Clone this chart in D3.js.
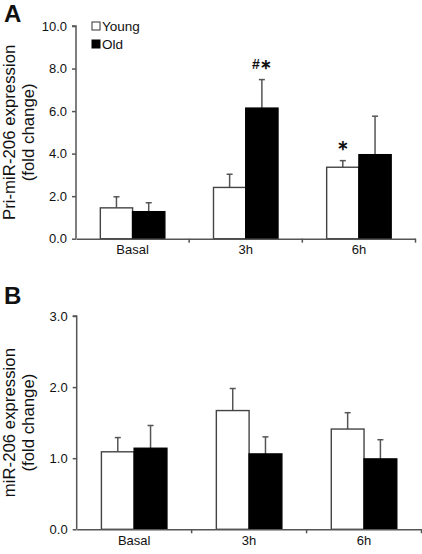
<!DOCTYPE html>
<html><head><meta charset="utf-8">
<script src="https://cdn.jsdelivr.net/npm/d3@7"></script>
<style>body{margin:0;background:#fff}svg{display:block}text{font-family:Arial,"Liberation Sans",sans-serif;fill:#111}</style>
</head><body><svg id="c" width="422" height="554"></svg>
<script>
const categories = ["Basal", "3h", "6h"];
const seriesNames = ["Young", "Old"];
// Panel A: Pri-miR-206
const priYoung = [1.45, 2.41, 3.36];
const priOld = [1.27, 6.14, 3.95];
const priYoungErr = [0.52, 0.62, 0.31];
const priOldErr = [0.42, 1.34, 1.81];
const priTicks = [0, 2, 4, 6, 8, 10];
const priMarks = [{cat: "3h", series: "Old", text: "#\u2217"}, {cat: "6h", series: "Young", text: "\u2217"}];
// Panel B: miR-206
const matYoung = [1.09, 1.67, 1.41];
const matOld = [1.14, 1.06, 0.99];
const matYoungErr = [0.20, 0.31, 0.23];
const matOldErr = [0.32, 0.24, 0.27];
const matTicks = [0, 1, 2, 3];

const svg = d3.select("#c");
const gray = "#555";

function panel(cfg) {
  const g = svg.append("g");
  const x = d3.scaleBand().domain(categories).range([cfg.x0, cfg.x1]).padding(0);
  const bw = x.bandwidth() * 0.285;
  const xs = d3.scaleBand().domain(seriesNames).range([0, 2 * bw]);
  const y = d3.scaleLinear().domain([0, cfg.ymax]).range([cfg.yb, cfg.yt]);
  const data = [];
  categories.forEach((c, i) => {
    data.push({cat: c, s: "Young", v: cfg.young[i], e: cfg.youngErr[i]});
    data.push({cat: c, s: "Old", v: cfg.old[i], e: cfg.oldErr[i]});
  });
  const bx = d => x(d.cat) + x.bandwidth() / 2 - bw + xs(d.s);
  // error bars
  g.selectAll(".eb").data(data).enter().append("line")
    .attr("x1", d => bx(d) + bw / 2).attr("x2", d => bx(d) + bw / 2)
    .attr("y1", d => y(d.v)).attr("y2", d => y(d.v + d.e))
    .attr("stroke", gray).attr("stroke-width", 1.5);
  g.selectAll(".cap").data(data).enter().append("line")
    .attr("x1", d => bx(d) + bw / 2 - 3).attr("x2", d => bx(d) + bw / 2 + 3)
    .attr("y1", d => y(d.v + d.e)).attr("y2", d => y(d.v + d.e))
    .attr("stroke", gray).attr("stroke-width", 1.5);
  // bars
  g.selectAll(".bar").data(data).enter().append("rect")
    .attr("x", d => bx(d)).attr("width", xs.bandwidth())
    .attr("y", d => y(d.v)).attr("height", d => y(0) - y(d.v))
    .attr("fill", d => d.s === "Young" ? "#fff" : "#000")
    .attr("stroke", d => d.s === "Young" ? "#444" : "#000").attr("stroke-width", 1.4);
  // y axis
  const ya = g.append("g").attr("transform", `translate(${cfg.x0},0)`)
    .call(d3.axisLeft(y).tickValues(cfg.ticks).tickFormat(d3.format(".1f")).tickSize(4).tickPadding(5));
  ya.select(".domain").attr("stroke", gray).attr("stroke-width", 1.5).attr("d", `M-4,${cfg.yt}H0V${cfg.yb}`);
  ya.selectAll(".tick line").attr("stroke", gray).attr("stroke-width", 1.5);
  ya.selectAll(".tick text").style("font-size", "13px").attr("fill", "#111");
  // x axis
  const xa = g.append("g").attr("transform", `translate(0,${cfg.yb})`)
    .call(d3.axisBottom(x).tickSize(0).tickPadding(6));
  xa.select(".domain").attr("stroke", gray).attr("stroke-width", 1.5);
  xa.selectAll(".tick text").style("font-size", "13px").attr("fill", "#111");
  const bounds = categories.slice(1).map(c => x(c)).concat([cfg.x1]);
  xa.selectAll(".bt").data(bounds).enter().append("line")
    .attr("x1", d => d).attr("x2", d => d).attr("y1", 0).attr("y2", 4)
    .attr("stroke", gray).attr("stroke-width", 1.5);
  // y title
  const cy = (cfg.yt + cfg.yb) / 2;
  const t = g.append("text").attr("transform", `translate(15,${cy}) rotate(-90)`)
    .attr("text-anchor", "middle").style("font-size", "16.8px");
  t.append("tspan").attr("x", 0).attr("y", 0).text(cfg.title1);
  t.append("tspan").attr("x", 0).attr("y", 18.5).text(cfg.title2);
  // panel letter
  g.append("text").attr("x", 4).attr("y", cfg.letterY).text(cfg.letter)
    .style("font-size", "24px").style("font-weight", "bold");
  return {g, x, y, bx, bw, data};
}

const A = panel({x0: 76, x1: 415.5, yt: 26, yb: 238.7, ymax: 10, ticks: priTicks,
  young: priYoung, old: priOld, youngErr: priYoungErr, oldErr: priOldErr,
  title1: "Pri-miR-206 expression", title2: "(fold change)", letter: "A", letterY: 22});
const B = panel({x0: 76.7, x1: 421.5, yt: 316, yb: 529.3, ymax: 3, ticks: matTicks,
  young: matYoung, old: matOld, youngErr: matYoungErr, oldErr: matOldErr,
  title1: "miR-206 expression", title2: "(fold change)", letter: "B", letterY: 304});

// significance marks
priMarks.forEach(m => {
  const d = A.data.find(e => e.cat === m.cat && e.s === m.series);
  A.g.append("text").attr("x", A.bx(d) + A.bw / 2).attr("y", A.y(d.v + d.e) - 11)
    .attr("text-anchor", "middle").style("font-size", "14px").style("font-weight", "bold").text(m.text);
});

// legend
const leg = A.g.append("g");
seriesNames.forEach((s, i) => {
  leg.append("rect").attr("x", 92).attr("y", 22 + i * 18).attr("width", 8).attr("height", 8)
    .attr("fill", s === "Young" ? "#fff" : "#000").attr("stroke", s === "Young" ? "#333" : "#000").attr("stroke-width", 1);
  leg.append("text").attr("x", 102).attr("y", 31 + i * 18).text(s).style("font-size", "13.5px");
});
</script></body></html>
